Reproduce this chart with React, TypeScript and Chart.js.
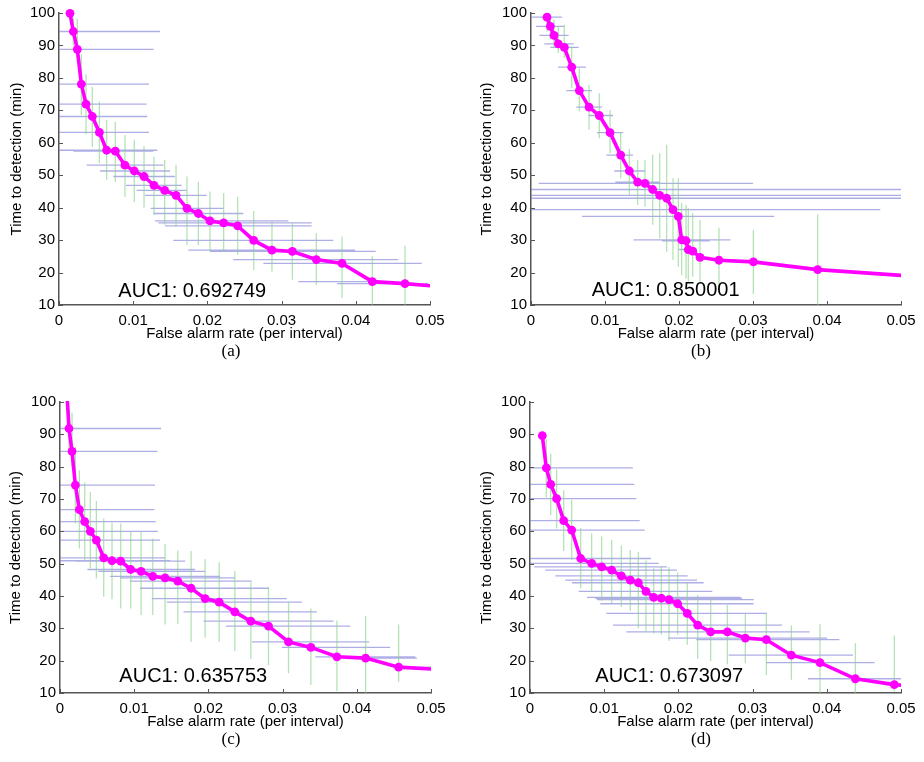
import React, { useEffect, useRef } from 'react';
import { Chart, registerables } from 'chart.js';

Chart.register(...registerables);

// ---------- shared axis ticks ----------
const xTicks = [0, 0.01, 0.02, 0.03, 0.04, 0.05];
const xTickLabels = ['0', '0.01', '0.02', '0.03', '0.04', '0.05'];
const yTicks = [10, 20, 30, 40, 50, 60, 70, 80, 90, 100];
const yTickLabels = ['10', '20', '30', '40', '50', '60', '70', '80', '90', '100'];

// ---------- panel (a) ----------
const aRate = [0.00148, 0.00193, 0.00247, 0.00301, 0.00364, 0.00449, 0.00544, 0.00642, 0.00759, 0.00889, 0.01015, 0.01146, 0.0128, 0.01424, 0.01577, 0.01725, 0.01878, 0.02035, 0.02219, 0.02408, 0.02624, 0.0287, 0.03145, 0.03468, 0.03814, 0.04223, 0.04663, 0.056];
const aTime = [99.9, 94.3, 88.8, 78.1, 71.9, 68.1, 63.2, 57.7, 57.4, 53.1, 51.3, 49.6, 46.9, 45.3, 43.8, 39.8, 38.2, 35.9, 35.3, 34.4, 29.9, 26.9, 26.5, 24.0, 22.8, 17.2, 16.6, 14.7];
const aTimeHi = [null, 98.5, 98.2, 87.3, 81.1, 77.2, 72.7, 67.0, 66.5, 62.4, 60.9, 59.0, 55.7, 54.7, 53.2, 49.6, 48.0, 45.0, 44.5, 43.4, 39.0, 35.7, 35.2, 32.1, 31.1, 25.0, 28.3, null];
const aTimeLo = [null, 90.0, 84.9, 68.6, 62.6, 58.7, 53.7, 48.6, 48.0, 43.4, 41.7, 40.0, 37.8, 34.7, 34.2, 28.5, 28.5, 26.5, 26.5, 25.5, 20.8, 20.3, 17.8, 16.2, 12.1, 9, 9, null];
const aRateLo = [null, 0, 0, 0, 0, 0, 0, 0, 0.00193, 0.00373, 0.00553, 0.00732, 0.00903, 0.01047, 0.01159, 0.01235, 0.01271, 0.01294, 0.01339, 0.01429, 0.01541, 0.01743, 0.02035, 0.0235, 0.02754, 0.03226, 0.03747, null];
const aRateHi = [null, 0.01361, 0.01276, 0.01213, 0.01181, 0.0119, 0.01213, 0.01325, 0.01271, 0.01406, 0.01496, 0.01563, 0.01653, 0.01721, 0.0199, 0.02215, 0.02484, 0.03091, 0.03405, 0.03405, 0.03697, 0.03989, 0.04268, 0.04573, 0.04888, 0.04259, 0.04978, null];

// ---------- panel (b) ----------
const bRate = [0.00216, 0.00261, 0.00311, 0.00369, 0.0045, 0.0055, 0.00653, 0.00784, 0.00923, 0.01068, 0.01212, 0.01329, 0.01441, 0.0154, 0.01644, 0.01739, 0.01833, 0.01919, 0.01991, 0.02036, 0.02095, 0.02126, 0.02185, 0.02284, 0.0254, 0.03005, 0.03874, 0.056];
const bTime = [98.7, 95.9, 93.1, 90.5, 89.4, 83.3, 76.1, 71.0, 68.4, 63.1, 56.2, 51.3, 47.9, 47.5, 45.6, 43.8, 42.9, 39.4, 37.3, 30.1, 29.8, 27.1, 26.6, 24.7, 23.8, 23.3, 20.9, 18.2];
const bTimeHi = [99.9, 98.5, 97.9, 95.9, 96.4, 89.7, 83.0, 77.9, 75.3, 70.2, 63.0, 58.1, 54.7, 54.7, 56.3, 56.8, 59.4, 49.1, 49.1, 41.4, 40.8, 39.8, 38.3, 36.2, 33.8, 33.1, 38.0, null];
const bTimeLo = [94.3, 91.8, 89.2, 87.7, 86.1, 76.9, 69.7, 64.0, 61.4, 56.8, 49.1, 43.9, 40.8, 40.3, 34.7, 30.6, 26.4, 23.9, 21.8, 19.2, 18.2, 17.2, 18.7, 17.2, 14.6, 13.3, 9, null];
const bRateLo = [0.00014, 0.00068, 0.00113, 0.0018, 0.00261, 0.00365, 0.00477, 0.00613, 0.00779, 0.00892, 0.01018, 0.01126, 0.0114, 0.00104, 0, 0, 0, 0, 0.00689, 0.01387, 0.0177, 0.01995, 0.02063, null, null, null, null, null];
const bRateHi = [0.00419, 0.0045, 0.00509, 0.00577, 0.00644, 0.00743, 0.00824, 0.00959, 0.01108, 0.01243, 0.01378, 0.01545, 0.01739, 0.03, 0.06, 0.06, 0.06, 0.0472, 0.03288, 0.02694, 0.02414, 0.02243, 0.02198, null, null, null, null, null];

// ---------- panel (c) ----------
const cRate = [0.00085, 0.00121, 0.00162, 0.00207, 0.00261, 0.00333, 0.00409, 0.0049, 0.00589, 0.00701, 0.00818, 0.00953, 0.01093, 0.0125, 0.01416, 0.01587, 0.01767, 0.01956, 0.02145, 0.02356, 0.02572, 0.0281, 0.0308, 0.03381, 0.03732, 0.04119, 0.04564, 0.056];
const cTime = [106, 91.8, 84.7, 74.3, 66.7, 63.0, 60.0, 57.3, 51.8, 50.9, 50.8, 48.2, 47.6, 46.1, 45.6, 44.6, 42.4, 39.2, 38.1, 35.1, 32.2, 30.7, 25.8, 24.1, 21.2, 20.8, 18.0, 16.6];
const cTimeHi = [null, 97.9, 96.7, 86.1, 78.9, 75.1, 72.2, 69.4, 64.0, 62.6, 62.4, 59.8, 59.8, 57.8, 56.1, 54.1, 53.9, 51.4, 50.4, 47.7, 44.2, 42.8, 38.2, 36.1, 32.4, 33.9, 31.2, null];
const cTimeLo = [null, 85.1, 79.9, 62.4, 54.7, 51.1, 48.5, 45.4, 39.8, 39.0, 36.1, 36.1, 34.1, 34.1, 31.2, 31.4, 25.8, 27.1, 25.8, 23.0, 20.5, 18.6, 16.1, 12.5, 10.6, 9, 13.5, null];
const cRateLo = [null, 0, 0, 0, 0, 0, 0, 0, 0, 0, 0.00211, 0.00369, 0.00517, 0.00674, 0.00809, 0.00944, 0.01079, 0.01237, 0.01439, 0.01664, 0.01933, 0.02235, 0.02585, 0.0299, 0.0344, 0.03943, 0.04609, null];
const cRateHi = [null, 0.01362, 0.01313, 0.01281, 0.01272, 0.0129, 0.01317, 0.01349, 0.01416, 0.01484, 0.01686, 0.01821, 0.01956, 0.02158, 0.02361, 0.02585, 0.0281, 0.03058, 0.0326, 0.03462, 0.03687, 0.03912, 0.04168, 0.04451, 0.04789, 0.04811, 0.05, null];

// ---------- panel (d) ----------
const dRate = [0.00166, 0.0022, 0.00279, 0.00359, 0.00454, 0.00562, 0.00683, 0.00831, 0.00966, 0.01101, 0.01231, 0.01352, 0.0146, 0.01563, 0.01667, 0.0177, 0.01873, 0.0199, 0.0212, 0.0226, 0.02435, 0.0266, 0.02902, 0.03185, 0.03522, 0.03908, 0.04385, 0.0491, 0.056];
const dTime = [89.6, 79.6, 74.5, 70.1, 63.3, 60.4, 51.6, 50.1, 49.0, 48.0, 46.2, 44.9, 44.1, 41.4, 39.6, 39.3, 38.9, 37.6, 34.6, 31.0, 28.9, 28.9, 27.0, 26.5, 21.7, 19.4, 14.4, 12.6, 11.4];
const dTimeHi = [null, 88.5, 84.1, 79.2, 72.7, 69.7, 61.1, 59.4, 58.4, 57.3, 55.6, 54.2, 53.7, 51.0, 48.6, 49.0, 49.0, 47.3, 44.2, 40.3, 39.5, 37.2, 34.4, 34.7, 30.9, 31.3, 25.4, 27.8, null];
const dTimeLo = [null, 70.5, 65.0, 60.9, 53.9, 51.1, 42.4, 41.2, 38.5, 37.8, 36.6, 35.4, 30.0, 29.0, 28.4, 28.0, 26.1, 28.0, 24.9, 20.6, 19.8, 18.9, 19.2, 15.6, 14.1, 9, 9, 10.5, null];
const dRateLo = [null, 0, 0, 0, 0, 0, 0, 0, 0.00058, 0.00207, 0.00341, 0.00476, 0.00566, 0.00656, 0.00768, 0.00881, 0.00903, 0.00948, 0.01029, 0.01119, 0.01298, 0.01532, 0.0186, 0.02242, 0.02677, 0.03181, 0.03747, 0.04811, null];
const dRateHi = [null, 0.01388, 0.01406, 0.01433, 0.01478, 0.01545, 0.01631, 0.01734, 0.01846, 0.01981, 0.02125, 0.02251, 0.0234, 0.02457, 0.02835, 0.02857, 0.03014, 0.03014, 0.03194, 0.03396, 0.03769, 0.03688, 0.04003, 0.04169, 0.04353, 0.04645, 0.05, 0.05, null];

// ---------- styling ----------
const SANS = '"Liberation Sans", Arial, Helvetica, sans-serif';
const AXIS_COLOR = '#555555';
const CURVE_COLOR = '#ff00ff';
const RATE_BAR_COLOR = 'rgba(125, 125, 215, 0.62)';
const TIME_BAR_COLOR = 'rgba(135, 210, 135, 0.62)';

type Num = number | null;

type PanelSpec = {
  caption: string;
  auc: string;
  aucAt: { x: number; y: number };
  rate: number[];
  time: number[];
  rateLo: Num[];
  rateHi: Num[];
  timeLo: Num[];
  timeHi: Num[];
  left: number;
  top: number;
  width: number;
  height: number;
  yAxisWidth: number;
  padRight: number;
  padTop: number;
  yTitlePad: number;
  clipTop: number;
  captionX: number;
};

// Horizontal spread of the alarm rate at each operating point
function rateSegments(lo: Num[], hi: Num[], time: number[]) {
  const pts: { x: number; y: number | null }[] = [];
  lo.forEach((l, i) => {
    const h = hi[i];
    if (l == null || h == null) return;
    pts.push({ x: l, y: time[i] }, { x: h, y: time[i] }, { x: h, y: null });
  });
  return pts;
}

// Vertical spread of the detection time at each operating point
function timeSegments(lo: Num[], hi: Num[], rate: number[]) {
  const pts: { x: number; y: number | null }[] = [];
  lo.forEach((l, i) => {
    const h = hi[i];
    if (l == null || h == null) return;
    pts.push({ x: rate[i], y: h }, { x: rate[i], y: l }, { x: rate[i], y: null });
  });
  return pts;
}

// MATLAB-style tick marks pointing into the plot area
const innerTicks = {
  id: 'innerTicks',
  afterDatasetsDraw(chart: any) {
    const { ctx, chartArea, scales } = chart;
    ctx.save();
    ctx.strokeStyle = AXIS_COLOR;
    ctx.lineWidth = 1;
    for (const t of scales.x.ticks) {
      const px = Math.round(scales.x.getPixelForValue(t.value)) + 0.5;
      ctx.beginPath();
      ctx.moveTo(px, chartArea.bottom);
      ctx.lineTo(px, chartArea.bottom - 4);
      ctx.stroke();
    }
    for (const t of scales.y.ticks) {
      const py = Math.round(scales.y.getPixelForValue(t.value)) + 0.5;
      ctx.beginPath();
      ctx.moveTo(chartArea.left, py);
      ctx.lineTo(chartArea.left + 4, py);
      ctx.stroke();
    }
    ctx.restore();
  },
};

function aucLabel(text: string, at: { x: number; y: number }) {
  return {
    id: 'aucLabel',
    afterDraw(chart: any) {
      const { ctx, scales } = chart;
      ctx.save();
      ctx.font = `20px ${SANS}`;
      ctx.fillStyle = '#000';
      ctx.textAlign = 'left';
      ctx.textBaseline = 'middle';
      ctx.fillText(text, scales.x.getPixelForValue(at.x), scales.y.getPixelForValue(at.y));
      ctx.restore();
    },
  };
}

const panels: PanelSpec[] = [
  {
    caption: '(a)', auc: 'AUC1: 0.692749', aucAt: { x: 0.008, y: 14.3 },
    rate: aRate, time: aTime, rateLo: aRateLo, rateHi: aRateHi, timeLo: aTimeLo, timeHi: aTimeHi,
    left: 0, top: 0, width: 460, height: 345, yAxisWidth: 59, padRight: 30, padTop: 13, yTitlePad: 8, clipTop: 6, captionX: 231,
  },
  {
    caption: '(b)', auc: 'AUC1: 0.850001', aucAt: { x: 0.0082, y: 14.6 },
    rate: bRate, time: bTime, rateLo: bRateLo, rateHi: bRateHi, timeLo: bTimeLo, timeHi: bTimeHi,
    left: 460, top: 0, width: 464, height: 345, yAxisWidth: 71, padRight: 23, padTop: 13, yTitlePad: 18, clipTop: 6, captionX: 701,
  },
  {
    caption: '(c)', auc: 'AUC1: 0.635753', aucAt: { x: 0.008, y: 15 },
    rate: cRate, time: cTime, rateLo: cRateLo, rateHi: cRateHi, timeLo: cTimeLo, timeHi: cTimeHi,
    left: 0, top: 388, width: 460, height: 345, yAxisWidth: 60, padRight: 29, padTop: 14, yTitlePad: 7, clipTop: 1, captionX: 231,
  },
  {
    caption: '(d)', auc: 'AUC1: 0.673097', aucAt: { x: 0.0088, y: 15 },
    rate: dRate, time: dTime, rateLo: dRateLo, rateHi: dRateHi, timeLo: dTimeLo, timeHi: dTimeHi,
    left: 460, top: 388, width: 464, height: 345, yAxisWidth: 70, padRight: 23, padTop: 14, yTitlePad: 18, clipTop: 6, captionX: 701,
  },
];

function RocPanel({ spec }: { spec: PanelSpec }) {
  const ref = useRef<HTMLCanvasElement | null>(null);

  useEffect(() => {
    if (!ref.current) return;
    const tickFont = { family: SANS, size: 15 };
    const titleFont = { family: SANS, size: 15 };
    const chart = new Chart(ref.current, {
      type: 'line',
      data: {
        datasets: [
          {
            data: spec.rate.map((x, i) => ({ x, y: spec.time[i] })),
            borderColor: CURVE_COLOR,
            backgroundColor: CURVE_COLOR,
            borderWidth: 3.6,
            pointRadius: 4.4,
            pointBorderWidth: 0,
            pointBackgroundColor: CURVE_COLOR,
            tension: 0,
            clip: { left: 0, right: 0, top: spec.clipTop, bottom: 0 },
            order: 0,
          },
          {
            data: rateSegments(spec.rateLo, spec.rateHi, spec.time),
            borderColor: RATE_BAR_COLOR,
            borderWidth: 1.3,
            pointRadius: 0,
            spanGaps: false,
            clip: 0,
            order: 2,
          },
          {
            data: timeSegments(spec.timeLo, spec.timeHi, spec.rate),
            borderColor: TIME_BAR_COLOR,
            borderWidth: 1.3,
            pointRadius: 0,
            spanGaps: false,
            clip: 0,
            order: 1,
          },
        ] as any,
      },
      options: {
        responsive: false,
        animation: false,
        events: [],
        layout: { padding: { top: spec.padTop, right: spec.padRight, left: 0, bottom: 0 } },
        plugins: { legend: { display: false }, tooltip: { enabled: false } },
        scales: {
          x: {
            type: 'linear',
            min: 0,
            max: 0.05,
            afterBuildTicks: (s: any) => { s.ticks = xTicks.map((value) => ({ value })); },
            afterFit: (s: any) => { s.height = 40; },
            ticks: {
              callback: (_v: any, i: number) => xTickLabels[i],
              font: tickFont,
              color: '#000',
              padding: 7,
              maxRotation: 0,
              autoSkip: false,
            },
            grid: { display: false, drawTicks: false },
            border: { display: true, color: AXIS_COLOR, width: 1.5 },
            title: {
              display: true,
              text: 'False alarm rate (per interval)',
              font: titleFont,
              color: '#000',
              padding: { top: 0, bottom: 2 },
            },
          },
          y: {
            type: 'linear',
            min: 10,
            max: 100,
            afterBuildTicks: (s: any) => { s.ticks = yTicks.map((value) => ({ value })); },
            afterFit: (s: any) => { s.width = spec.yAxisWidth; },
            ticks: {
              callback: (_v: any, i: number) => yTickLabels[i],
              font: tickFont,
              color: '#000',
              padding: 4,
              autoSkip: false,
            },
            grid: { display: false, drawTicks: false },
            border: { display: true, color: AXIS_COLOR, width: 1.5 },
            title: {
              display: true,
              text: 'Time to detection (min)',
              font: titleFont,
              color: '#000',
              padding: { top: spec.yTitlePad, bottom: 0 },
            },
          },
        },
      } as any,
      plugins: [innerTicks, aucLabel(spec.auc, spec.aucAt)],
    });
    return () => chart.destroy();
  }, [spec]);

  return (
    <>
      <canvas
        ref={ref}
        width={spec.width}
        height={spec.height}
        style={{ position: 'absolute', left: spec.left, top: spec.top, width: spec.width, height: spec.height }}
      />
      <div
        style={{
          position: 'absolute',
          left: spec.captionX,
          top: spec.top + 350,
          transform: 'translate(-50%, -50%)',
          fontFamily: '"Liberation Serif", "DejaVu Serif", serif',
          fontSize: 17,
          color: '#000',
          lineHeight: 1,
        }}
      >
        {spec.caption}
      </div>
    </>
  );
}

export default function App() {
  return (
    <div style={{ position: 'absolute', left: 0, top: 0, width: 924, height: 762, background: '#fff', overflow: 'hidden' }}>
      {panels.map((p) => (
        <RocPanel key={p.caption} spec={p} />
      ))}
    </div>
  );
}
